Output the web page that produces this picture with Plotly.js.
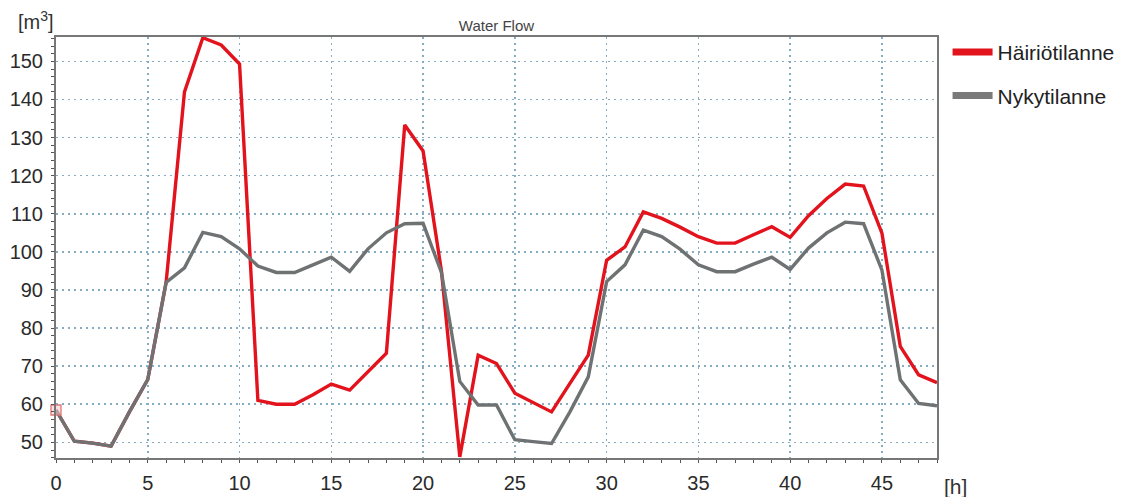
<!DOCTYPE html>
<html>
<head>
<meta charset="utf-8">
<script src="https://cdn.plot.ly/plotly-3.0.1.min.js"></script>
<style>html,body{margin:0;padding:0;background:#fff;}#chart{width:1146px;height:497px;}</style>
</head>
<body>
<div id="chart"></div>
<script>
const hours = [0,1,2,3,4,5,6,7,8,9,10,11,12,13,14,15,16,17,18,19,20,21,22,23,24,25,26,27,28,29,30,31,32,33,34,35,36,37,38,39,40,41,42,43,44,45,46,47,48];
const hairiotilanne = [58.5,50.3,49.8,49,58,66.5,92,142,156.2,154.3,149.3,61,60,60,62.5,65.3,63.7,68.5,73.4,133.3,126.5,95,46.2,72.9,70.7,62.9,60.5,58,65.5,72.9,97.8,101.3,110.5,108.8,106.5,104,102.3,102.3,104.5,106.6,103.8,109.5,114,117.8,117.3,104.9,75.2,67.7,65.7];
const nykytilanne = [58.5,50.3,49.8,49,58,66.5,92,95.8,105.1,104,100.8,96.3,94.6,94.6,96.6,98.6,94.9,100.8,105,107.4,107.5,94.6,66,59.8,59.8,50.7,50.2,49.7,58,67.2,92.2,96.6,105.7,104,100.7,96.6,94.8,94.8,96.8,98.6,95.4,101,105,107.8,107.4,95.2,66.4,60.2,59.6];
const seriesNames = ['Häiriötilanne','Nykytilanne'];
const yTicks = [50,60,70,80,90,100,110,120,130,140,150];
const xTicks = [0,5,10,15,20,25,30,35,40,45];

const redColor = '#e2131c';
const grayColor = '#6f7273';

const traces = [
  {x: hours, y: hairiotilanne, type:'scatter', mode:'lines', line:{color:redColor, width:3.4}, showlegend:false, hoverinfo:'skip'},
  {x: hours, y: nykytilanne, type:'scatter', mode:'lines', line:{color:grayColor, width:3.4}, showlegend:false, hoverinfo:'skip'},
  {x: [hours[0]], y: [hairiotilanne[0]], type:'scatter', mode:'markers', cliponaxis:false, marker:{symbol:'square', size:10, color:'rgba(245,200,200,0.55)', line:{color:'#d77', width:1.3}}, showlegend:false, hoverinfo:'skip'},
  {x:[null], y:[null], type:'scatter', mode:'lines', name:seriesNames[0], line:{color:redColor, width:7}, legendgroup:'a'},
  {x:[null], y:[null], type:'scatter', mode:'lines', name:seriesNames[1], line:{color:'#7a7a7a', width:7}, legendgroup:'b'}
];

const layout = {
  width:1146, height:497,
  margin:{l:56, r:209, t:37, b:39},
  paper_bgcolor:'#ffffff', plot_bgcolor:'#ffffff',
  font:{family:'Liberation Sans, Arial, sans-serif', color:'#333'},
  title:{text:'Water Flow', font:{size:15, color:'#444'}, x:0.5, xref:'paper', y:1, yref:'paper', yanchor:'bottom', pad:{b:6}},
  xaxis:{
    range:[0,48], tickvals:xTicks, ticktext:xTicks.map(String),
    showgrid:true, gridcolor:'#86adc4', griddash:'2px,4px', gridwidth:1.6,
    zeroline:false, showline:true, linecolor:'#777', linewidth:2, mirror:true,
    ticks:'', tickfont:{size:20, color:'#2a2a2a'}, ticklabelstandoff:6,
    minor:{dtick:1, ticks:'outside', ticklen:3, tickcolor:'#555', showgrid:false}
  },
  yaxis:{
    range:[45.9,156.4], tickvals:yTicks, ticktext:yTicks.map(String),
    showgrid:true, gridcolor:'#86adc4', griddash:'2px,4px', gridwidth:1.6,
    zeroline:false, showline:true, linecolor:'#777', linewidth:2, mirror:true,
    ticks:'', tickfont:{size:20, color:'#2a2a2a'}, ticklabelstandoff:7,
    minor:{dtick:2, ticks:'outside', ticklen:3, tickcolor:'#555', showgrid:false}
  },
  legend:{x:1.012, y:1.012, xanchor:'left', yanchor:'top', font:{size:21, color:'#222'}, tracegroupgap:13, bgcolor:'rgba(0,0,0,0)', itemwidth:40},
  annotations:[
    {text:'[m<sup>3</sup>]', xref:'paper', yref:'paper', x:-0.045, y:1.005, xanchor:'left', yanchor:'bottom', showarrow:false, font:{size:20, color:'#333'}},
    {text:'[h]', xref:'paper', yref:'paper', x:1.006, y:-0.035, xanchor:'left', yanchor:'top', showarrow:false, font:{size:21, color:'#333'}}
  ]
};

Plotly.newPlot('chart', traces, layout, {displayModeBar:false, staticPlot:true});
</script>
</body>
</html>
